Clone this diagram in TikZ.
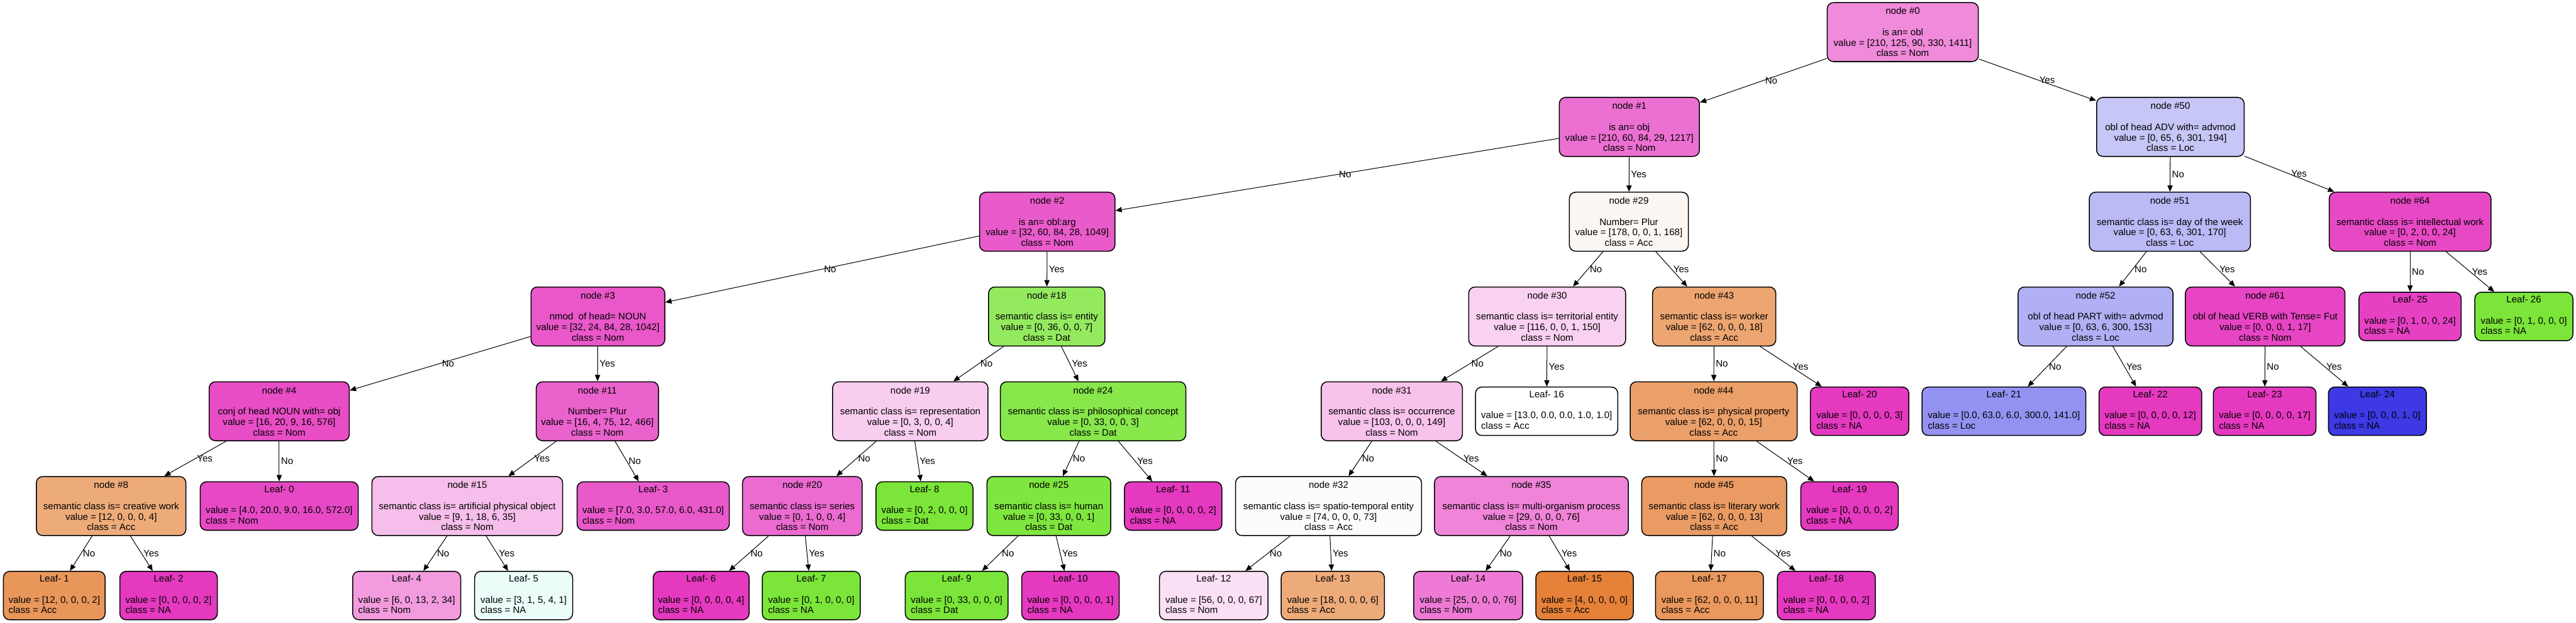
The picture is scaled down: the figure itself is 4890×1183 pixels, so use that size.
\documentclass[tikz,border=0pt]{standalone}
\usepackage{fontspec}
\setmainfont{Liberation Sans}
\usetikzlibrary{arrows.meta}
\definecolor{cA}{RGB}{229,129,57}
\definecolor{cD}{RGB}{123,229,57}
\definecolor{cT}{RGB}{57,229,198}
\definecolor{cL}{RGB}{60,57,229}
\definecolor{cN}{RGB}{229,57,192}
\newcommand\fs{\fontsize{9pt}{10pt}\selectfont}
\tikzset{
  boxbase/.style={draw=black, line width=0.9pt, rounded corners=6pt, inner sep=0pt, font=\fs},
  tn/.style={boxbase, minimum height=56pt, align=center},
  lf/.style={boxbase, minimum height=46pt},
  ed/.style={-{Triangle[length=6pt,width=5pt]}, line width=0.6pt},
  lb/.style={anchor=west, font=\fs, inner sep=1.5pt}
}
\newcommand\IN[7]{\node[tn,fill=#5,minimum width=#4*0.5pt] (#1) at (#2,#3) {node \##6\\[10pt]#7};}
\newcommand\LF[7]{\node[lf,fill=#5,minimum width=#4*0.5pt] (#1) at (#2,#3) {\begin{tabular}{@{}l@{}}\multicolumn{1}{@{}c@{}}{Leaf- #6}\\[10pt]#7\end{tabular}};}
\begin{document}
\begin{tikzpicture}[x=0.5pt,y=-0.5pt]
\path[fill=white] (0,0) rectangle (4890,1183);
\useasboundingbox (0,0) rectangle (4890,1183);
% row 0
\IN{n0}{3612}{61}{287}{cN!59!white}{0}{is an= obl\\value = [210, 125, 90, 330, 1411]\\class = Nom}
% row 1
\IN{n1}{3093}{241}{266}{cN!72!white}{1}{is an= obj\\value = [210, 60, 84, 29, 1217]\\class = Nom}
\IN{n50}{4120}{241}{280}{cL!29!white}{50}{obl of head ADV with= advmod\\value = [0, 65, 6, 301, 194]\\class = Loc}
% row 2
\IN{n2}{1988}{421}{257}{cN!83!white}{2}{is an= obl:arg\\value = [32, 60, 84, 28, 1049]\\class = Nom}
\IN{n29}{3092}{421}{226}{cA!6!white}{29}{Number= Plur\\value = [178, 0, 0, 1, 168]\\class = Acc}
\IN{n51}{4119}{421}{306}{cL!35!white}{51}{semantic class is= day of the week\\value = [0, 63, 6, 301, 170]\\class = Loc}
\IN{n64}{4575}{421}{307}{cN!92!white}{64}{semantic class is= intellectual work\\value = [0, 2, 0, 0, 24]\\class = Nom}
% row 3
\IN{n3}{1135}{601}{254}{cN!85!white}{3}{nmod\ \ of head= NOUN\\value = [32, 24, 84, 28, 1042]\\class = Nom}
\IN{n18}{1987}{601}{221}{cD!81!white}{18}{semantic class is= entity\\value = [0, 36, 0, 0, 7]\\class = Dat}
\IN{n30}{2937}{601}{298}{cN!23!white}{30}{semantic class is= territorial entity\\value = [116, 0, 0, 1, 150]\\class = Nom}
\IN{n43}{3254}{601}{234}{cA!71!white}{43}{semantic class is= worker\\value = [62, 0, 0, 0, 18]\\class = Acc}
\IN{n52}{3978}{601}{294}{cL!40!white}{52}{obl of head PART with= advmod\\value = [0, 63, 6, 300, 153]\\class = Loc}
\IN{n61}{4300}{601}{303}{cN!94!white}{61}{obl of head VERB with Tense= Fut\\value = [0, 0, 0, 1, 17]\\class = Nom}
\LF{L25}{4575}{601}{194}{cN!96!white}{25}{value = [0, 1, 0, 0, 24]\\class = NA}
\LF{L26}{4791}{601}{186}{cD}{26}{value = [0, 1, 0, 0, 0]\\class = NA}
% row 4
\IN{n4}{530}{781}{266}{cN!90!white}{4}{conj of head NOUN with= obj\\value = [16, 20, 9, 16, 576]\\class = Nom}
\IN{n11}{1134}{781}{232}{cN!79!white}{11}{Number= Plur\\value = [16, 4, 75, 12, 466]\\class = Nom}
\IN{n19}{1728}{781}{295}{cN!25!white}{19}{semantic class is= representation\\value = [0, 3, 0, 0, 4]\\class = Nom}
\IN{n24}{2075}{781}{352}{cD!91!white}{24}{semantic class is= philosophical concept\\value = [0, 33, 0, 0, 3]\\class = Dat}
\IN{n31}{2642}{781}{268}{cN!31!white}{31}{semantic class is= occurrence\\value = [103, 0, 0, 0, 149]\\class = Nom}
\LF{L16}{2936}{781}{270}{white}{16}{value = [13.0, 0.0, 0.0, 1.0, 1.0]\\class = Acc}
\IN{n44}{3253}{781}{317}{cA!76!white}{44}{semantic class is= physical property\\value = [62, 0, 0, 0, 15]\\class = Acc}
\LF{L20}{3530}{781}{187}{cN}{20}{value = [0, 0, 0, 0, 3]\\class = NA}
\LF{L21}{3804}{781}{311}{cL!55!white}{21}{value = [0.0, 63.0, 6.0, 300.0, 141.0]\\class = Loc}
\LF{L22}{4082}{781}{195}{cN}{22}{value = [0, 0, 0, 0, 12]\\class = NA}
\LF{L23}{4299}{781}{195}{cN}{23}{value = [0, 0, 0, 0, 17]\\class = NA}
\LF{L24}{4513}{781}{186}{cL}{24}{value = [0, 0, 0, 1, 0]\\class = NA}
% row 5
\IN{n8}{211}{961}{284}{cA!67!white}{8}{semantic class is= creative work\\value = [12, 0, 0, 0, 4]\\class = Acc}
\LF{L0}{530}{961}{300}{cN!92!white}{0}{value = [4.0, 20.0, 9.0, 16.0, 572.0]\\class = Nom}
\IN{n15}{887}{961}{362}{cN!33!white}{15}{semantic class is= artificial physical object\\value = [9, 1, 18, 6, 35]\\class = Nom}
\LF{L3}{1240}{961}{289}{cN!84!white}{3}{value = [7.0, 3.0, 57.0, 6.0, 431.0]\\class = Nom}
\IN{n20}{1523}{961}{227}{cN!75!white}{20}{semantic class is= series\\value = [0, 1, 0, 0, 4]\\class = Nom}
\LF{L8}{1755}{961}{184}{cD}{8}{value = [0, 2, 0, 0, 0]\\class = Dat}
\IN{n25}{1991}{961}{235}{cD!97!white}{25}{semantic class is= human\\value = [0, 33, 0, 0, 1]\\class = Dat}
\LF{L11}{2227}{961}{185}{cN}{11}{value = [0, 0, 0, 0, 2]\\class = NA}
\IN{n32}{2522}{961}{353}{cA!2!white}{32}{semantic class is= spatio-temporal entity\\value = [74, 0, 0, 0, 73]\\class = Acc}
\IN{n35}{2907}{961}{368}{cN!62!white}{35}{semantic class is= multi-organism process\\value = [29, 0, 0, 0, 76]\\class = Nom}
\IN{n45}{3254}{961}{275}{cA!79!white}{45}{semantic class is= literary work\\value = [62, 0, 0, 0, 13]\\class = Acc}
\LF{L19}{3511}{961}{185}{cN}{19}{value = [0, 0, 0, 0, 2]\\class = NA}
% row 6
\LF{L1}{103}{1131}{193}{cA!83!white}{1}{value = [12, 0, 0, 0, 2]\\class = Acc}
\LF{L2}{320}{1131}{185}{cN}{2}{value = [0, 0, 0, 0, 2]\\class = NA}
\LF{L4}{772}{1131}{205}{cN!50!white}{4}{value = [6, 0, 13, 2, 34]\\class = Nom}
\LF{L5}{994}{1131}{186}{cT!10!white}{5}{value = [3, 1, 5, 4, 1]\\class = NA}
\LF{L6}{1331}{1131}{182}{cN}{6}{value = [0, 0, 0, 0, 4]\\class = NA}
\LF{L7}{1540}{1131}{186}{cD}{7}{value = [0, 1, 0, 0, 0]\\class = NA}
\LF{L9}{1816}{1131}{195}{cD}{9}{value = [0, 33, 0, 0, 0]\\class = Dat}
\LF{L10}{2032}{1131}{185}{cN}{10}{value = [0, 0, 0, 0, 1]\\class = NA}
\LF{L12}{2304}{1131}{206}{cN!16!white}{12}{value = [56, 0, 0, 0, 67]\\class = Nom}
\LF{L13}{2530}{1131}{196}{cA!67!white}{13}{value = [18, 0, 0, 0, 6]\\class = Acc}
\LF{L14}{2787}{1131}{207}{cN!67!white}{14}{value = [25, 0, 0, 0, 76]\\class = Nom}
\LF{L15}{3008}{1131}{185}{cA}{15}{value = [4, 0, 0, 0, 0]\\class = Acc}
\LF{L17}{3245}{1131}{205}{cA!82!white}{17}{value = [62, 0, 0, 0, 11]\\class = Acc}
\LF{L18}{3467}{1131}{186}{cN}{18}{value = [0, 0, 0, 0, 2]\\class = NA}
% edges
\draw[ed] (n0) -- node[lb]{No} (n1);
\draw[ed] (n0) -- node[lb]{Yes} (n50);
\draw[ed] (n1) -- node[lb]{No} (n2);
\draw[ed] (n1) -- node[lb]{Yes} (n29);
\draw[ed] (n50) -- node[lb]{No} (n51);
\draw[ed] (n50) -- node[lb]{Yes} (n64);
\draw[ed] (n2) -- node[lb]{No} (n3);
\draw[ed] (n2) -- node[lb]{Yes} (n18);
\draw[ed] (n29) -- node[lb]{No} (n30);
\draw[ed] (n29) -- node[lb]{Yes} (n43);
\draw[ed] (n51) -- node[lb]{No} (n52);
\draw[ed] (n51) -- node[lb]{Yes} (n61);
\draw[ed] (n64) -- node[lb]{No} (L25);
\draw[ed] (n64) -- node[lb]{Yes} (L26);
\draw[ed] (n3) -- node[lb]{No} (n4);
\draw[ed] (n3) -- node[lb]{Yes} (n11);
\draw[ed] (n18) -- node[lb]{No} (n19);
\draw[ed] (n18) -- node[lb]{Yes} (n24);
\draw[ed] (n30) -- node[lb]{No} (n31);
\draw[ed] (n30) -- node[lb]{Yes} (L16);
\draw[ed] (n43) -- node[lb]{No} (n44);
\draw[ed] (n43) -- node[lb]{Yes} (L20);
\draw[ed] (n52) -- node[lb]{No} (L21);
\draw[ed] (n52) -- node[lb]{Yes} (L22);
\draw[ed] (n61) -- node[lb]{No} (L23);
\draw[ed] (n61) -- node[lb]{Yes} (L24);
\draw[ed] (n4) -- node[lb]{Yes} (n8);
\draw[ed] (n4) -- node[lb]{No} (L0);
\draw[ed] (n11) -- node[lb]{Yes} (n15);
\draw[ed] (n11) -- node[lb]{No} (L3);
\draw[ed] (n19) -- node[lb]{No} (n20);
\draw[ed] (n19) -- node[lb]{Yes} (L8);
\draw[ed] (n24) -- node[lb]{No} (n25);
\draw[ed] (n24) -- node[lb]{Yes} (L11);
\draw[ed] (n31) -- node[lb]{No} (n32);
\draw[ed] (n31) -- node[lb]{Yes} (n35);
\draw[ed] (n44) -- node[lb]{No} (n45);
\draw[ed] (n44) -- node[lb]{Yes} (L19);
\draw[ed] (n8) -- node[lb]{No} (L1);
\draw[ed] (n8) -- node[lb]{Yes} (L2);
\draw[ed] (n15) -- node[lb]{No} (L4);
\draw[ed] (n15) -- node[lb]{Yes} (L5);
\draw[ed] (n20) -- node[lb]{No} (L6);
\draw[ed] (n20) -- node[lb]{Yes} (L7);
\draw[ed] (n25) -- node[lb]{No} (L9);
\draw[ed] (n25) -- node[lb]{Yes} (L10);
\draw[ed] (n32) -- node[lb]{No} (L12);
\draw[ed] (n32) -- node[lb]{Yes} (L13);
\draw[ed] (n35) -- node[lb]{No} (L14);
\draw[ed] (n35) -- node[lb]{Yes} (L15);
\draw[ed] (n45) -- node[lb]{No} (L17);
\draw[ed] (n45) -- node[lb]{Yes} (L18);
\end{tikzpicture}
\end{document}
